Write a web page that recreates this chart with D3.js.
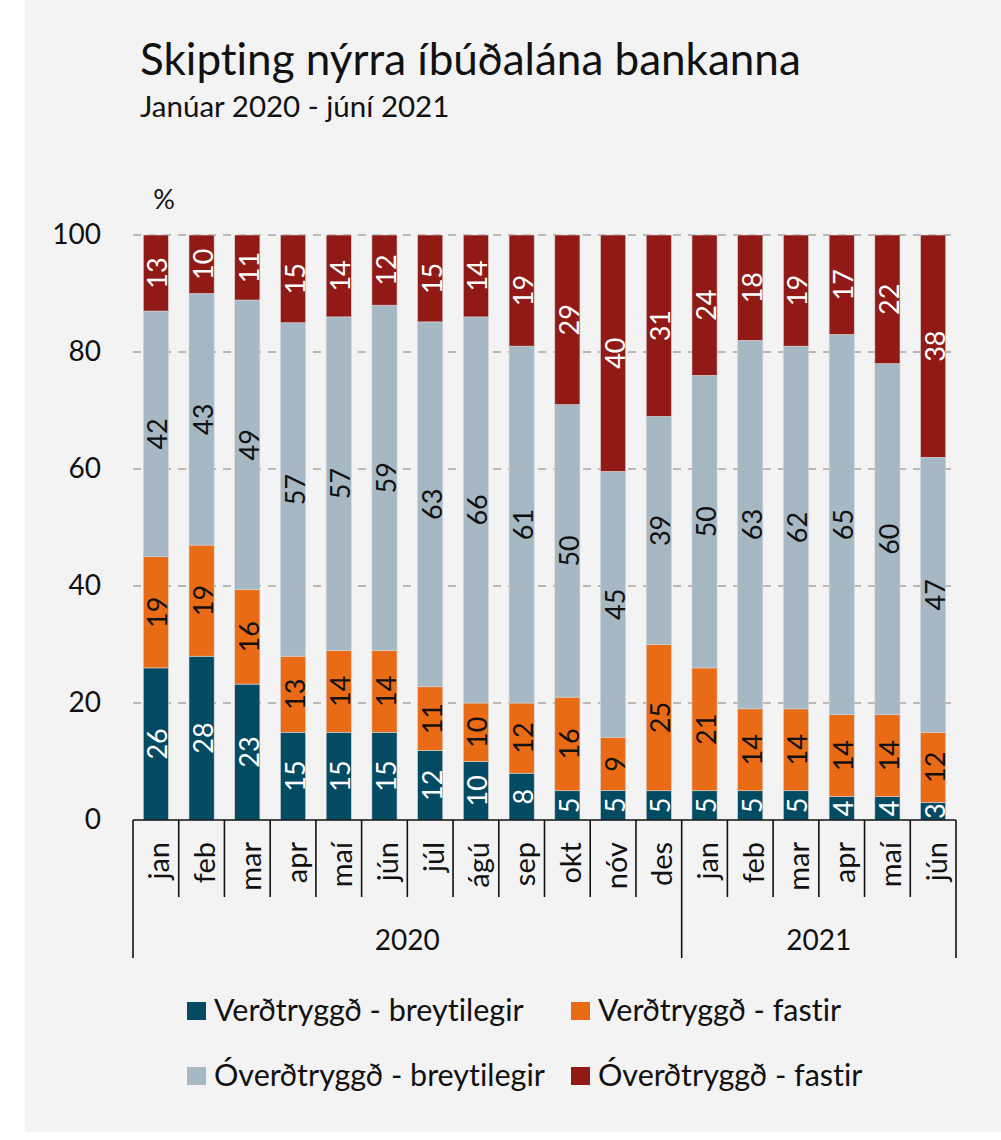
<!DOCTYPE html>
<html><head><meta charset="utf-8">
<script src="https://cdn.jsdelivr.net/npm/d3@7"></script>
<style>body{margin:0;background:#fff;} svg{display:block;} text{font-family:Lato,"Open Sans",sans-serif;font-variant-ligatures:none;font-feature-settings:"liga" 0,"clig" 0;}</style>
</head><body><svg id="c" width="1001" height="1140"></svg>
<script>
const months = ["jan","feb","mar","apr","maí","jún","júl","ágú","sep","okt","nóv","des","jan","feb","mar","apr","maí","jún"];
const years = [{label:"2020", count:12},{label:"2021", count:6}];
const seriesNames = ["Verðtryggð - breytilegir","Verðtryggð - fastir","Óverðtryggð - breytilegir","Óverðtryggð - fastir"];
const verdBreyt = [26,28,23,15,15,15,12,10,8,5,5,5,5,5,5,4,4,3];
const verdFast  = [19,19,16,13,14,14,11,10,12,16,9,25,21,14,14,14,14,12];
const overdBreyt= [42,43,49,57,57,59,63,66,61,50,45,39,50,63,62,65,60,47];
const overdFast = [13,10,11,15,14,12,15,14,19,29,40,31,24,18,19,17,22,38];
const yTicks = [0,20,40,60,80,100];
const colors = ["#034A63","#E96B16","#A6B8C4","#921A16"];
const labelColors = ["#fff","#111","#111","#fff"];

const svg = d3.select("#c");
svg.append("rect").attr("x",25).attr("y",0).attr("width",976).attr("height",1132).attr("fill","#F3F3F3");

const rows = months.map((m,i)=>({i, s0:verdBreyt[i], s1:verdFast[i], s2:overdBreyt[i], s3:overdFast[i]}));
const keys = ["s0","s1","s2","s3"];
const stack = d3.stack().keys(keys).offset(d3.stackOffsetExpand)(rows);

const x = d3.scaleBand().domain(d3.range(months.length)).range([133,956]).paddingInner(0.45).paddingOuter(0.225);
const y = d3.scaleLinear().domain([0,100]).range([820,235]);

// title
svg.append("text").attr("x",140).attr("y",75).attr("font-size",44).attr("fill","#111").text("Skipting nýrra íbúðalána bankanna");
svg.append("text").attr("x",140).attr("y",117).attr("font-size",29.5).attr("fill","#111").text("Janúar 2020 - júní 2021");
svg.append("text").attr("x",164).attr("y",209).attr("font-size",27).attr("text-anchor","middle").attr("fill","#111").text("%");

// grid
svg.append("g").selectAll("line").data(yTicks.filter(d=>d>0)).join("line")
  .attr("x1",133).attr("x2",956).attr("y1",d=>y(d)).attr("y2",d=>y(d))
  .attr("stroke","#A9A4A0").attr("stroke-width",1.6).attr("stroke-dasharray","8,7");

// y axis labels
const yAxis = d3.axisLeft(y).tickValues(yTicks).tickSize(0).tickPadding(0);
const ya = svg.append("g").attr("transform","translate(101,0)").call(yAxis);
ya.select(".domain").remove();
ya.selectAll("text").attr("font-size",28).attr("fill","#111").attr("font-family","Lato");

// bars
const layers = svg.append("g").selectAll("g").data(stack).join("g").attr("fill",(d,k)=>colors[k]);
layers.selectAll("rect").data(d=>d).join("rect")
  .attr("x",d=>x(d.data.i)).attr("width",x.bandwidth())
  .attr("y",d=>y(d[1]*100)).attr("height",d=>y(d[0]*100)-y(d[1]*100))
  .attr("stroke","#d6d6d6").attr("stroke-width",0.6);

// bar labels
stack.forEach((layer,k)=>{
  svg.append("g").selectAll("text").data(layer).join("text")
    .attr("transform",d=>`translate(${x(d.data.i)+x.bandwidth()/2+1},${y((d[0]+d[1])*50)}) rotate(-90)`)
    .attr("text-anchor","middle").attr("dominant-baseline","central")
    .attr("font-size",27).attr("fill",labelColors[k])
    .text(d=>d.data[keys[k]]);
});

// x axis
svg.append("line").attr("x1",133).attr("x2",956).attr("y1",820).attr("y2",820).attr("stroke","#111").attr("stroke-width",1.6);
const bounds = d3.range(months.length+1).map(i=> i===months.length ? 956 : x(i)-x.step()*x.paddingInner()/2);
let cum=0; const yearEdges=[0];
years.forEach(yv=>{cum+=yv.count; yearEdges.push(cum);});
svg.append("g").selectAll("line").data(bounds).join("line")
  .attr("x1",d=>d).attr("x2",d=>d).attr("y1",820)
  .attr("y2",(d,i)=> yearEdges.includes(i) ? 958 : 897)
  .attr("stroke","#111").attr("stroke-width",1.6);
svg.append("g").selectAll("text").data(months).join("text")
  .attr("transform",(d,i)=>`translate(${x(i)+x.bandwidth()/2+2},842) rotate(-90)`)
  .attr("text-anchor","end").attr("dominant-baseline","central")
  .attr("font-size",29).attr("fill","#111").text(d=>d);
svg.append("g").selectAll("text").data(years).join("text")
  .attr("x",(d,k)=>(bounds[yearEdges[k]]+bounds[yearEdges[k+1]])/2).attr("y",950)
  .attr("text-anchor","middle").attr("font-size",28).attr("fill","#111").text(d=>d.label);

// legend
const legPos = [[187,1002],[571,1002],[187,1067],[571,1067]];
seriesNames.forEach((n,k)=>{
  const g = svg.append("g").attr("transform",`translate(${legPos[k][0]},${legPos[k][1]})`);
  g.append("rect").attr("width",19).attr("height",18).attr("fill",colors[k]);
  g.append("text").attr("x",27).attr("y",19).attr("font-size",30.5).attr("fill","#111").text(n);
});
</script></body></html>
